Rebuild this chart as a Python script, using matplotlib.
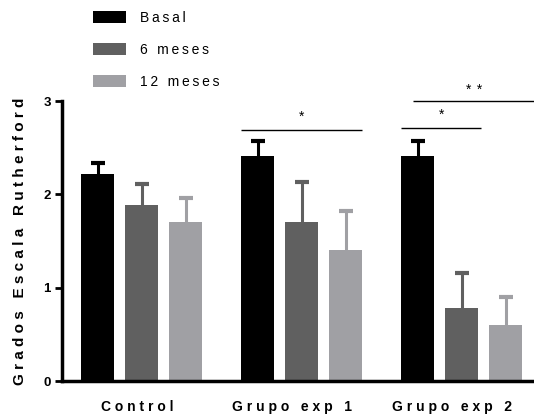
import matplotlib
matplotlib.use("Agg")
import matplotlib.pyplot as plt
import matplotlib.transforms as mtransforms
import numpy as np

groups = ["Control", "Grupo exp 1", "Grupo exp 2"]
series = ["Basal", "6 meses", "12 meses"]
means = {
    "Basal":    [2.22, 2.41, 2.41],
    "6 meses":  [1.89, 1.70, 0.78],
    "12 meses": [1.70, 1.40, 0.60],
}
errs = {
    "Basal":    [0.12, 0.16, 0.16],
    "6 meses":  [0.22, 0.43, 0.38],
    "12 meses": [0.26, 0.42, 0.30],
}
colors = {"Basal": "#000000", "6 meses": "#606060", "12 meses": "#a0a0a4"}
yticks = [0, 1, 2, 3]
ylabel = "Grados Escala Rutherford"

def spaced(s, sep="\u2009"):
    return (sep + " " + sep).join(sep.join(w) for w in s.split(" "))

WIDE = "\u2009\u200a"

plt.rcParams['font.family'] = ['Liberation Sans', 'DejaVu Sans']

fig = plt.figure(figsize=(5.34, 4.17), dpi=100)
ax = fig.add_axes([62/534, 1-381/417, 1-62/534, (381-101)/417])

x = np.arange(len(groups))
off = 0.275
w = 0.206
for i, s in enumerate(series):
    xs = x + (i - 1) * off
    ax.bar(xs, means[s], width=w, color=colors[s], label=spaced(s), zorder=2,
           edgecolor='none')
    _, caps, _ = ax.errorbar(xs, means[s], yerr=[np.zeros(3), errs[s]], fmt='none',
                             ecolor=colors[s], elinewidth=2.2, capsize=5, capthick=3,
                             zorder=1)
    caps[0].set_visible(False)

def sig(x0, x1, y, txt):
    ax.plot([x0, x1], [y, y], color='black', lw=1, clip_on=False, solid_capstyle='butt')
    ax.text((x0 + x1) / 2, y + 0.07, txt, ha='center', va='bottom', fontsize=10)

sig(x[1] - off - w/2, x[1] + off + w/2, 2.69, "*")
sig(x[2] - off - w/2, x[2] + w/2 + 0.02, 2.71, "*")
ax.plot([x[2] - off - w/2 + 0.075, 2.453], [3.0, 3.0], color='black', lw=1,
        clip_on=False, solid_capstyle='butt')
ax.text(2.08, 3.04, "*\u2009\u2009*", ha='center', va='bottom', fontsize=10)

ax.set_xlim(-0.497, 2.453)
ax.set_ylim(0, 3)
ax.set_yticks(yticks)
ax.set_yticklabels([str(t) for t in yticks], fontsize=9.5, fontweight='bold')
ax.set_xticks(x)
ax.set_xticklabels([spaced(g, WIDE) for g in groups], fontsize=10, fontweight='bold')
ax.tick_params(axis='x', length=0, pad=14)
ax.tick_params(axis='y', length=5, width=2, pad=3)
for lab, dx in zip(ax.get_xticklabels(), [-4, -10, -10]):
    lab.set_transform(lab.get_transform() +
                      mtransforms.ScaledTranslation(dx / 100, 0, fig.dpi_scale_trans))
for sp in ['top', 'right']:
    ax.spines[sp].set_visible(False)
for sp in ['left', 'bottom']:
    ax.spines[sp].set_linewidth(2.5)
ax.set_ylabel(spaced(ylabel, WIDE), fontsize=11, fontweight='bold', labelpad=12)

leg = ax.legend(loc='upper left', bbox_to_anchor=(93/534, 1-11/417),
                bbox_transform=fig.transFigure, frameon=False, fontsize=10,
                handlelength=2.4, handleheight=0.95, handletextpad=1.0,
                labelspacing=1.3, borderpad=0, borderaxespad=0)

fig.savefig("out.png", dpi=100)
